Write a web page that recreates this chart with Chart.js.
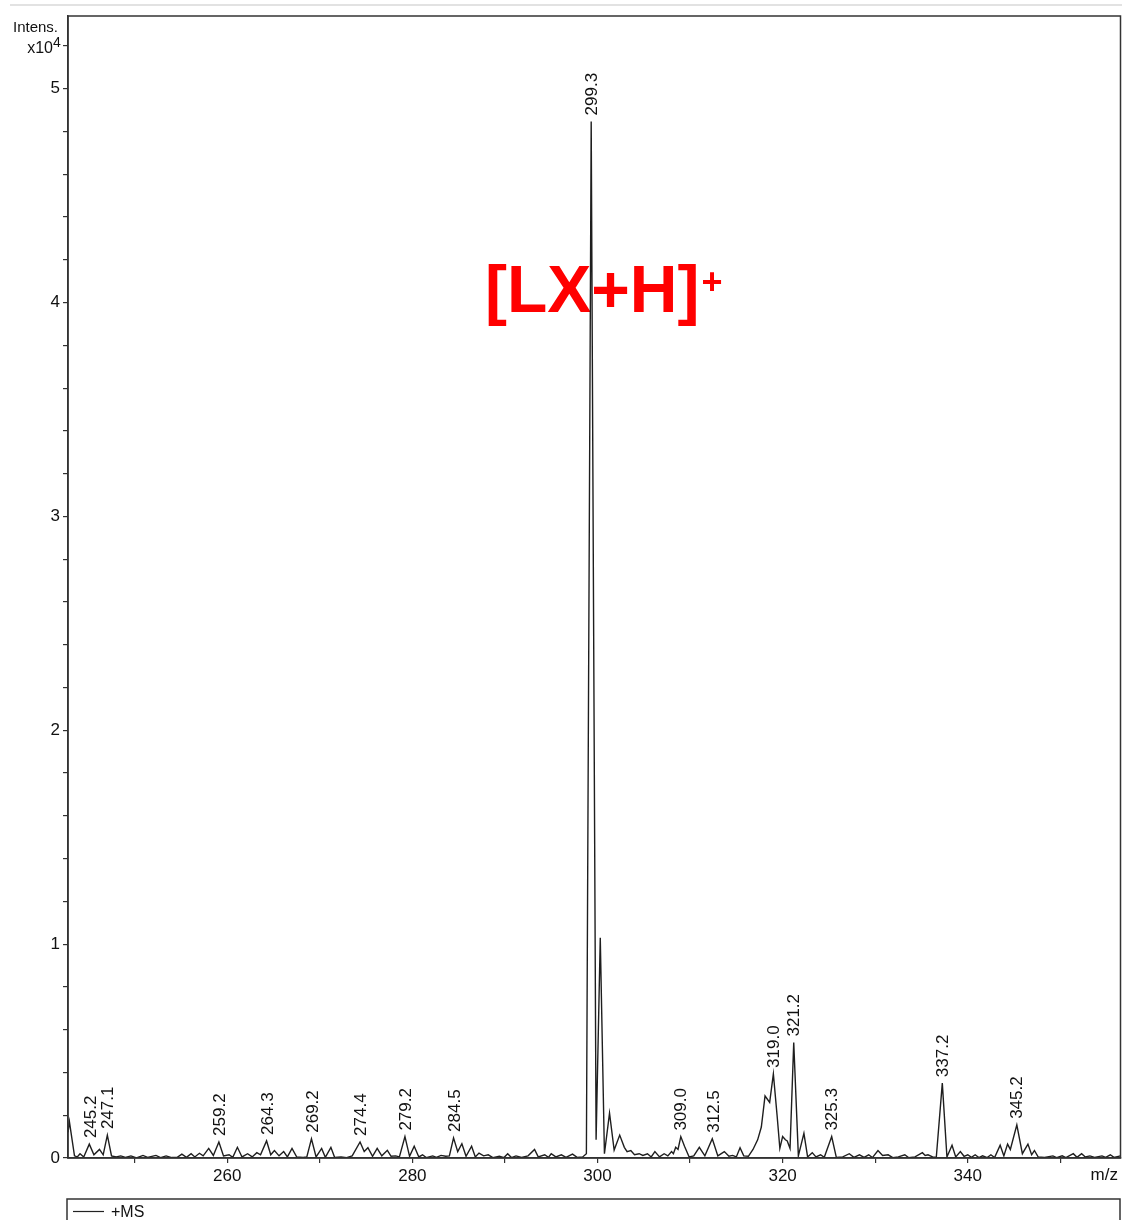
<!DOCTYPE html>
<html>
<head>
<meta charset="utf-8">
<script src="https://cdn.jsdelivr.net/npm/chart.js@4.4.1/dist/chart.umd.min.js"></script>
<style>
  html, body { margin: 0; padding: 0; background: #ffffff; }
  #wrap { width: 1122px; height: 1220px; position: relative; }
</style>
</head>
<body>
<div id="wrap"><canvas id="c" width="1122" height="1220"></canvas></div>
<script>
// ---- data (m/z, intensity in units of 1e4) ----
const mzValues = [
  242.8, 242.95, 243.5, 243.8, 244.1, 244.5, 245.1, 245.6, 246.2, 246.6, 247.05, 247.5, 248.0, 248.5, 249.0, 249.6,
  250.2, 250.9, 251.4, 252.3, 252.8, 253.4, 254.0, 254.6, 255.1, 255.6, 256.1, 256.5, 257.0, 257.4, 258.0, 258.5,
  259.1, 259.6, 260.2, 260.6, 261.1, 261.6, 262.2, 262.7, 263.2, 263.6, 264.25, 264.7, 265.1, 265.6, 266.1, 266.5,
  267.0, 267.5, 268.2, 268.6, 269.1, 269.6, 270.2, 270.6, 271.2, 271.6, 272.3, 272.9, 273.5, 274.35, 274.8, 275.2,
  275.7, 276.2, 276.7, 277.3, 277.7, 278.2, 278.6, 279.2, 279.7, 280.2, 280.7, 281.1, 281.5, 282.2, 282.6, 283.1,
  283.6, 284.0, 284.45, 284.9, 285.35, 285.8, 286.4, 286.8, 287.2, 287.7, 288.2, 288.7, 289.4, 289.9, 290.3, 290.7,
  291.2, 291.8, 292.5, 293.2, 293.6, 294.3, 294.7, 295.0, 295.5, 296.1, 296.6, 297.3, 297.8, 298.4, 298.8, 299.32,
  299.85, 300.3, 300.75, 301.3, 301.8, 302.4, 302.9, 303.2, 303.6, 304.0, 304.5, 304.9, 305.4, 305.8, 306.2, 306.7,
  307.2, 307.6, 308.0, 308.2, 308.45, 308.7, 309.0, 309.4, 309.9, 310.4, 311.0, 311.6, 312.4, 313.0, 313.7, 314.2,
  314.6, 315.0, 315.4, 315.8, 316.3, 316.8, 317.3, 317.7, 318.1, 318.6, 319.0, 319.4, 319.7, 320.0, 320.3, 320.5,
  320.8, 321.2, 321.7, 322.3, 322.7, 323.2, 323.6, 324.1, 324.5, 325.3, 325.8, 326.5, 327.2, 327.7, 328.3, 328.8,
  329.3, 329.7, 330.3, 330.8, 331.4, 331.9, 332.5, 333.2, 333.6, 334.3, 335.1, 335.4, 335.7, 336.2, 336.6, 337.25,
  337.75, 338.3, 338.7, 339.2, 339.6, 340.0, 340.4, 340.8, 341.2, 341.6, 342.1, 342.5, 342.9, 343.5, 343.9, 344.3,
  344.6, 345.3, 345.9, 346.5, 346.9, 347.2, 347.6, 348.3, 349.2, 349.6, 350.2, 350.6, 351.4, 351.8, 352.3, 352.7,
  353.2, 353.7, 354.5, 354.9, 355.4, 355.8, 356.5
];
const intensityValues = [
  0.12, 0.17, 0.01, 0.005, 0.02, 0.005, 0.065, 0.015, 0.04, 0.015, 0.107, 0.01, 0.005, 0.01, 0.003, 0.01,
  0.0, 0.012, 0.003, 0.012, 0.002, 0.01, 0.002, 0.003, 0.018, 0.003, 0.02, 0.005, 0.022, 0.01, 0.045, 0.012,
  0.075, 0.01, 0.015, 0.003, 0.05, 0.005, 0.02, 0.005, 0.025, 0.015, 0.08, 0.015, 0.035, 0.01, 0.03, 0.005,
  0.045, 0.005, 0.003, 0.005, 0.09, 0.005, 0.045, 0.003, 0.05, 0.003, 0.005, 0.002, 0.01, 0.075, 0.03, 0.048,
  0.008, 0.045, 0.01, 0.036, 0.008, 0.01, 0.005, 0.1, 0.008, 0.055, 0.005, 0.015, 0.002, 0.01, 0.003, 0.012,
  0.008, 0.01, 0.094, 0.03, 0.067, 0.008, 0.055, 0.005, 0.023, 0.01, 0.015, 0.002, 0.008, 0.002, 0.02, 0.002,
  0.01, 0.003, 0.01, 0.04, 0.005, 0.015, 0.003, 0.02, 0.005, 0.015, 0.003, 0.018, 0.003, 0.005, 0.02, 4.847,
  0.085, 1.03, 0.02, 0.21, 0.037, 0.107, 0.05, 0.03, 0.035, 0.015, 0.02, 0.012, 0.02, 0.005, 0.03, 0.005,
  0.02, 0.01, 0.03, 0.02, 0.05, 0.04, 0.1, 0.055, 0.005, 0.01, 0.05, 0.01, 0.09, 0.01, 0.03, 0.008,
  0.012, 0.005, 0.048, 0.01, 0.008, 0.04, 0.085, 0.145, 0.29, 0.26, 0.393, 0.2, 0.045, 0.1, 0.085, 0.08,
  0.045, 0.54, 0.01, 0.115, 0.005, 0.025, 0.005, 0.015, 0.003, 0.1, 0.003, 0.005, 0.02, 0.003, 0.015, 0.003,
  0.015, 0.002, 0.035, 0.012, 0.015, 0.002, 0.005, 0.015, 0.002, 0.005, 0.025, 0.012, 0.015, 0.005, 0.003, 0.35,
  0.005, 0.06, 0.005, 0.03, 0.008, 0.015, 0.003, 0.015, 0.002, 0.01, 0.002, 0.015, 0.002, 0.06, 0.01, 0.065,
  0.04, 0.155, 0.02, 0.065, 0.015, 0.035, 0.005, 0.003, 0.01, 0.002, 0.01, 0.002, 0.02, 0.003, 0.02, 0.005,
  0.01, 0.003, 0.01, 0.003, 0.015, 0.003, 0.01
];
const peakLabels = ['245.2', '247.1', '259.2', '264.3', '269.2', '274.4', '279.2', '284.5', '299.3',
                    '309.0', '312.5', '319.0', '321.2', '325.3', '337.2', '345.2'];
const xTickValues = [250, 260, 270, 280, 290, 300, 310, 320, 330, 340, 350];
const yTickValues = [0, 0.2, 0.4, 0.6, 0.8, 1, 1.2, 1.4, 1.6, 1.8, 2, 2.2, 2.4, 2.6, 2.8, 3,
                     3.2, 3.4, 3.6, 3.8, 4, 4.2, 4.4, 4.6, 4.8, 5, 5.2];
const seriesName = '+MS';
const annotationText = '[LX+H]';
const annotationSup = '+';

const FONT = '"Liberation Sans", Arial, sans-serif';
const AXIS = '#333333';

const points = mzValues.map((m, i) => ({ x: m, y: intensityValues[i] }));

const decorPlugin = {
  id: 'decor',
  beforeDatasetsDraw(chart) {
    const ctx = chart.ctx;
    ctx.save();
    ctx.fillStyle = '#ff0000';
    ctx.textBaseline = 'alphabetic';
    ctx.textAlign = 'left';
    ctx.font = 'bold 66px ' + FONT;
    ctx.fillText(annotationText, 485, 312);
    const w = ctx.measureText(annotationText).width;
    ctx.font = 'bold 36px ' + FONT;
    ctx.fillText(annotationSup, 485 + w + 2, 294);
    ctx.restore();
  },
  afterDraw(chart) {
    const ctx = chart.ctx;
    const a = chart.chartArea;
    const xs = chart.scales.x, ys = chart.scales.y;
    ctx.save();
    // top light rule
    ctx.strokeStyle = '#e2e2e2';
    ctx.lineWidth = 2;
    ctx.beginPath(); ctx.moveTo(10, 5); ctx.lineTo(1122, 5); ctx.stroke();
    // plot frame
    ctx.strokeStyle = AXIS;
    ctx.lineWidth = 1.5;
    ctx.strokeRect(a.left, a.top, a.right - a.left, a.bottom - a.top);
    // peak labels
    ctx.fillStyle = '#111';
    ctx.font = '17px ' + FONT;
    ctx.textAlign = 'left';
    ctx.textBaseline = 'middle';
    peakLabels.forEach(lbl => {
      const m = parseFloat(lbl);
      let best = -1;
      mzValues.forEach((v, i) => {
        if (Math.abs(v - m) <= 0.4 && intensityValues[i] > best) { best = intensityValues[i]; }
      });
      const px = xs.getPixelForValue(m) + 1;
      const py = ys.getPixelForValue(best) - 6;
      ctx.save();
      ctx.translate(px, py);
      ctx.rotate(-Math.PI / 2);
      ctx.fillText(lbl, 0, 0);
      ctx.restore();
    });
    // y axis title
    ctx.fillStyle = '#111';
    ctx.textAlign = 'right';
    ctx.textBaseline = 'alphabetic';
    ctx.font = '15px ' + FONT;
    ctx.fillText('Intens.', 58, 32);
    ctx.font = '16px ' + FONT;
    ctx.fillText('x10', 53, 53);
    ctx.textAlign = 'left';
    ctx.font = '14px ' + FONT;
    ctx.fillText('4', 53, 47);
    // x axis title
    ctx.font = '17px ' + FONT;
    ctx.textAlign = 'right';
    ctx.fillText('m/z', 1118, 1180);
    // legend box
    ctx.strokeStyle = AXIS;
    ctx.lineWidth = 1.5;
    ctx.strokeRect(67, 1199, 1053, 40);
    ctx.strokeStyle = '#222';
    ctx.lineWidth = 1.2;
    ctx.beginPath(); ctx.moveTo(73, 1211.5); ctx.lineTo(104, 1211.5); ctx.stroke();
    ctx.textAlign = 'left';
    ctx.font = '16px ' + FONT;
    ctx.fillText(seriesName, 111, 1217);
    ctx.restore();
  }
};

new Chart(document.getElementById('c'), {
  type: 'scatter',
  data: {
    datasets: [{
      label: seriesName,
      data: points,
      showLine: true,
      borderColor: '#1e1e1e',
      borderWidth: 1.4,
      pointRadius: 0,
      tension: 0,
      fill: false
    }]
  },
  options: {
    responsive: false,
    animation: false,
    devicePixelRatio: 1,
    layout: { padding: { top: 16, right: 1.5, left: 0, bottom: 0 } },
    plugins: { legend: { display: false }, tooltip: { enabled: false } },
    scales: {
      x: {
        type: 'linear',
        min: 242.8,
        max: 356.5,
        afterFit(s) { s.height = 62; },
        afterBuildTicks(s) { s.ticks = xTickValues.map(v => ({ value: v })); },
        grid: { drawOnChartArea: false, drawTicks: true, tickLength: 5, color: AXIS, lineWidth: 1.2 },
        border: { display: true, color: AXIS, width: 1.5 },
        ticks: {
          autoSkip: false,
          maxRotation: 0,
          padding: 3,
          color: '#111',
          font: { family: FONT, size: 17 },
          callback: v => (v % 20 === 0 ? String(v) : '')
        }
      },
      y: {
        type: 'linear',
        min: 0,
        max: 5.34,
        afterFit(s) { s.width = 68; },
        afterBuildTicks(s) { s.ticks = yTickValues.map(v => ({ value: v })); },
        grid: { drawOnChartArea: false, drawTicks: true, tickLength: 5, color: AXIS, lineWidth: 1.2 },
        border: { display: true, color: AXIS, width: 1.5 },
        ticks: {
          autoSkip: false,
          padding: 3,
          color: '#111',
          font: { family: FONT, size: 17 },
          callback: v => (Number.isInteger(v) ? String(v) : '')
        }
      }
    }
  },
  plugins: [decorPlugin]
});
</script>
</body>
</html>
